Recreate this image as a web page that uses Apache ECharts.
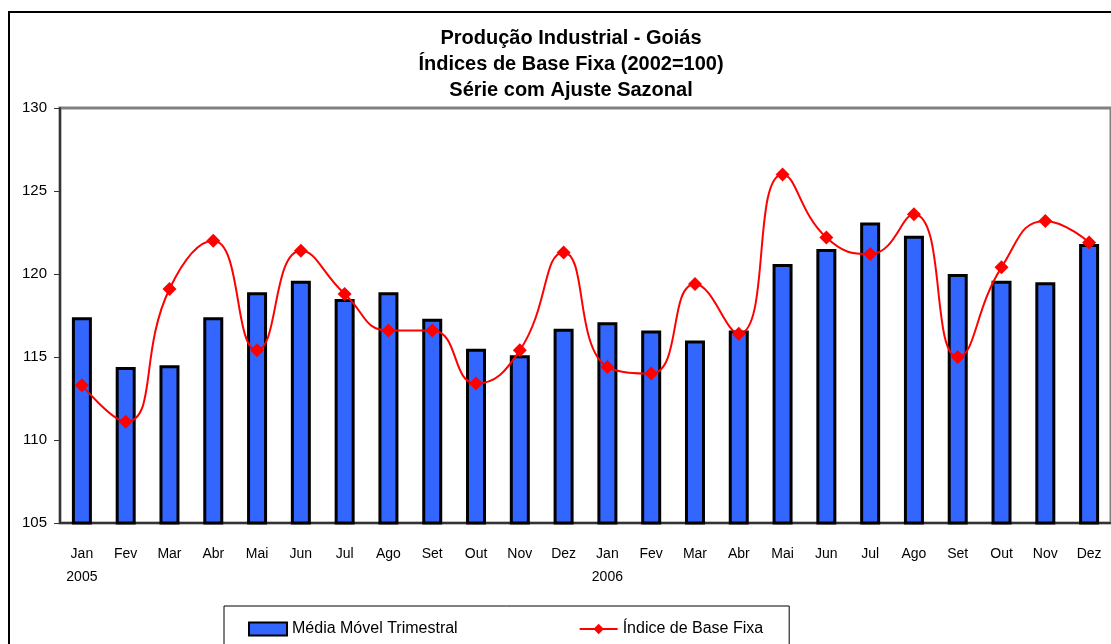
<!DOCTYPE html>
<html>
<head>
<meta charset="utf-8">
<script src="https://cdn.jsdelivr.net/npm/echarts@6/dist/echarts.min.js"></script>
<style>
html,body{margin:0;padding:0;background:#fff;}
#chart{width:1111px;height:644px;}
</style>
</head>
<body>
<div id="chart"></div>
<script>
var months = ['Jan','Fev','Mar','Abr','Mai','Jun','Jul','Ago','Set','Out','Nov','Dez'];
var years = ['2005','2006'];
var mediaMovel = [117.4,114.4,114.5,117.4,118.9,119.6,118.5,118.9,117.3,115.5,115.1,116.7,
                  117.1,116.6,116.0,116.6,120.6,121.5,123.1,122.3,120.0,119.6,119.5,121.8];
var indiceBase = [113.3,111.1,119.1,122.0,115.4,121.4,118.8,116.6,116.6,113.4,115.4,121.3,
                  114.4,114.0,119.4,116.4,126.0,122.2,121.2,123.6,115.0,120.4,123.2,121.9];
var yTicks = [105,110,115,120,125,130];

var categories = [];
years.forEach(function(y){ months.forEach(function(m, i){ categories.push(i === 0 ? m + '\n' + y : m); }); });

var FONT = '"Liberation Sans", Arial, sans-serif';
var chart = echarts.init(document.getElementById('chart'), null, {renderer:'canvas'});
chart.setOption({
  backgroundColor:'#fff',
  animation:false,
  title:{
    text:'Produção Industrial - Goiás\nÍndices de Base Fixa (2002=100)\nSérie com Ajuste Sazonal',
    left:566, top:20, textAlign:'center',
    textStyle:{fontFamily:FONT, fontSize:20, fontWeight:'bold', color:'#000', lineHeight:26}
  },
  graphic:[{
    type:'rect', silent:true, z:-10,
    shape:{x:9, y:12, width:1200, height:700},
    style:{fill:null, stroke:'#000', lineWidth:2}
  }],
  legend:{
    left:224, top:606,
    padding:[15,26,20,24],
    itemGap:121, itemWidth:38, itemHeight:13,
    borderColor:'#000', borderWidth:1,
    textStyle:{fontFamily:FONT, fontSize:16, color:'#000'},
    data:[{name:'Média Móvel Trimestral', icon:'rect'}, {name:'Índice de Base Fixa'}]
  },
  grid:{
    left:60, top:108, bottom:121, right:-8,
    show:true, borderColor:'#808080', borderWidth:3, backgroundColor:'transparent'
  },
  xAxis:{
    type:'category', data:categories,
    axisLine:{lineStyle:{color:'#333', width:2}},
    axisTick:{length:6, lineStyle:{color:'#333', width:1}},
    axisLabel:{interval:0, margin:20, fontFamily:FONT, fontSize:14, color:'#000', lineHeight:23}
  },
  yAxis:{
    type:'value', min:yTicks[0], max:yTicks[yTicks.length-1], interval:5,
    axisLine:{show:true, lineStyle:{color:'#333', width:2}},
    axisTick:{show:true, length:6, lineStyle:{color:'#333', width:1}},
    splitLine:{show:false},
    axisLabel:{margin:13, fontFamily:FONT, fontSize:15, color:'#000'}
  },
  series:[{
    name:'Média Móvel Trimestral', type:'bar', data:mediaMovel,
    barWidth:20,
    itemStyle:{color:'#3366FF', borderColor:'#000', borderWidth:3}
  },{
    name:'Índice de Base Fixa', type:'line', data:indiceBase,
    smooth:0.5,
    symbol:'diamond', symbolSize:14,
    lineStyle:{color:'#FF0000', width:2},
    itemStyle:{color:'#FF0000'}
  }]
});
</script>
</body>
</html>
